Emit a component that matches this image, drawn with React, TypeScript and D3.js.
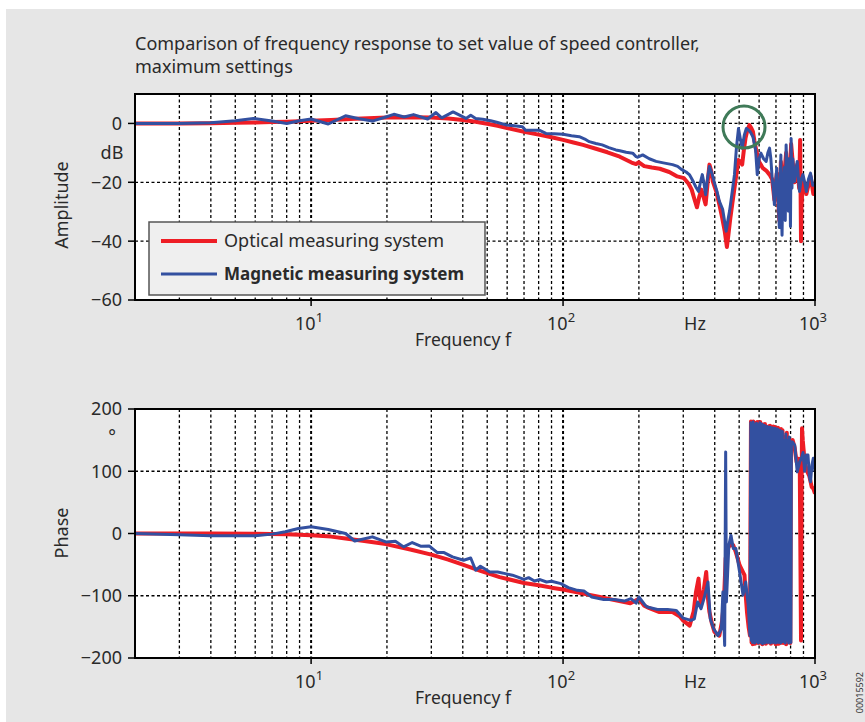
import React from 'react';
import * as d3 from 'd3';

type Pt = [number, number];

// amplitude in dB, [Hz, dB]
const optAmp: Pt[] = [
  [2, 0], [3, 0], [4, 0.1], [5, 0.2], [6, 0.3], [7, 0.5], [8, 0.6], [10, 0.9], [12, 1.2], [15, 1.6],
  [20, 2.0], [25, 2.1], [30, 2.0], [35, 1.7], [40, 1.2], [45, 0.6], [50, -0.1], [55, -0.8], [60, -1.6],
  [70, -2.8], [80, -3.8], [90, -4.7], [100, -5.6], [110, -6.5], [120, -7.3], [135, -8.6], [150, -9.8],
  [168, -11.3], [187, -13.3], [195, -13.8], [200, -13.2], [210, -14.5], [225, -15.0], [242, -15.4],
  [264, -16.5], [284, -18.0], [302, -18.6], [315, -20.5], [324, -22.5], [333, -26], [340, -28.5],
  [347, -25], [354, -22.5], [361, -25], [368, -27.5], [375, -20], [381, -14], [387, -16], [393, -19.7],
  [405, -23], [417, -27.5], [428, -32], [438, -36.5], [447, -42], [453, -38], [460, -33], [470, -27],
  [479, -22], [488, -17], [496, -12.4], [505, -13], [514, -14], [522, -9], [530, -5], [540, -2],
  [549, -0.6], [558, -1.5], [567, -2.8], [575, -6], [584, -9], [600, -13], [621, -15.2], [640, -16],
  [660, -17.4], [676, -19], [690, -26], [705, -17], [722, -33], [732, -13], [744, -24], [768, -10],
  [784, -28], [804, -7], [829, -20], [850, -14], [865, -22], [873, -5.6], [876, -20], [880, -40],
  [884, -28], [896, -19], [924, -24], [960, -18], [985, -24], [1000, -23],
];

const magAmp: Pt[] = [
  [2, 0], [3, 0], [4, 0.2], [5, 0.9], [5.9, 1.7], [7, 0.8], [8, 0], [9, 0.9], [10, 1.5], [11.7, -0.2],
  [13.7, 2.6], [15.5, 1.6], [17.5, 0.8], [19.5, 2], [21.3, 3.1], [23.4, 2.2], [25.5, 3], [29, 1.5],
  [31.3, 3.7], [33, 1.9], [36.6, 3.9], [41.2, 1.7], [43, 2.8], [45, 1.7], [48, 1.4], [51.6, 0.9],
  [55, 0.3], [59.3, -0.5], [64, -0.8], [69, -1.1], [71, -2.3], [80.4, -2.3], [85.5, -3.4], [92, -3.5],
  [100, -3.7], [108, -4.2], [116, -4.5], [122, -5.3], [127, -6.2], [135, -6.8], [143, -7.3],
  [152, -8.2], [162, -9], [168, -9.3], [178, -9.8], [189, -10.1], [195, -11.3], [198, -11.5],
  [207, -10.7], [220, -12], [234, -12.9], [250, -13.4], [272, -14], [285, -14.6], [295, -15.6],
  [308, -16.5], [318, -17.5], [327, -19.4], [336, -21.5], [345, -23.1], [351, -20], [357, -17.4],
  [362, -20], [368, -24.2], [374, -19], [381, -14.6], [390, -17], [399, -20.2], [408, -23],
  [417, -26.4], [430, -29.2], [444, -36.6], [451, -33], [458, -29.8], [468, -24], [479, -17.4],
  [488, -8], [497, -1.7], [505, -5], [514, -8.4], [524, -4], [534, -1.7], [553, -2.8], [567, -4.5],
  [581, -9], [590, -17.4], [600, -12], [610, -10.1], [625, -12], [640, -12.9], [650, -10], [660, -8.4],
  [668, -12], [676, -18.6], [683, -22], [690, -27.6], [698, -20], [705, -15.2], [713, -25],
  [722, -35.4], [727, -22], [732, -10.7], [736, -30], [740, -38], [744, -24.2], [756, -15], [762, -33],
  [768, -7.3], [776, -20], [784, -29.8], [788, -12], [794, -15], [799, -35], [804, -5.1], [810, -22],
  [816, -12], [829, -19.7], [840, -16], [850, -12.9], [858, -18], [868, -23.1], [882, -19],
  [896, -17.4], [910, -20], [924, -23.1], [942, -19], [960, -16.9], [980, -21], [1000, -20.8],
];

// phase in degrees, [Hz, deg]
const optPhase: Pt[] = [
  [2, 0], [4, 0], [6, -0.5], [8, -1.2], [10, -2.7], [12, -5], [13.7, -8], [16, -11.5], [19.8, -17],
  [25, -26], [30, -34], [35, -42], [40, -50], [47, -60], [56, -70], [70, -79.5], [80, -83], [90, -87],
  [100, -90], [115, -95], [140, -102], [160, -107], [185, -112], [200, -105], [210, -116], [220, -120],
  [240, -126], [272, -126], [290, -133], [300, -140], [318, -148], [330, -125], [337, -94],
  [345, -72.5], [349, -100], [353, -115], [362, -90], [370, -62], [375, -100], [381, -126],
  [390, -145], [399, -158], [417, -164], [428, -140], [434, -115], [438, -80], [442, -40], [450, -25],
  [458, -19], [474, -19], [485, -30], [502, -51], [515, -60], [525, -67], [531, -100], [537, -126],
  [545, -150], [552, -164],
  [557, 180], [560, -175], [563, 179], [566, -178], [569, 180], [572, -170], [575, 178], [578, -177],
  [582, 175], [586, -172], [590, 179], [594, -176], [598, 172], [602, -165], [606, 179], [610, -176],
  [614, 174], [618, -178], [623, 175], [628, -168], [633, 176], [638, -177], [643, 170], [648, -175],
  [653, 172], [658, -170], [663, 173], [668, -177], [673, 165], [678, -175], [683, 172], [688, -168],
  [693, 171], [698, -178], [703, 166], [708, -172], [713, 170], [718, -177], [723, 162], [728, -176],
  [733, 168], [738, -170], [743, 166], [748, -176], [753, 155], [758, -160], [763, 152], [768, -178],
  [773, 162], [778, -174], [783, 150], [788, -168], [793, 150], [798, -176], [803, 145],
  [815, 150], [830, 138], [845, 115], [860, 120], [870, 110], [876, -60], [880, -172], [884, 40],
  [888, 169], [894, 150], [910, 115], [930, 100], [950, 92], [970, 75], [985, 72], [1000, 64],
];

const magPhase: Pt[] = [
  [2, 0], [3, -2], [4, -3.8], [6, -3.8], [7, -1], [7.9, 2.7], [8.9, 8], [10, 10.7], [11.7, 6.4],
  [13.7, 0], [14.9, -12], [17.5, -5.4], [19.8, -13.5], [21.6, -12.4], [23.3, -21.5], [25.2, -14.5],
  [27.2, -20.4], [29.4, -20], [31.7, -30.6], [33.7, -30.6], [36.4, -37.6], [40.3, -43], [43, -39.3],
  [45, -59], [47, -52.6], [51.2, -61.8], [55, -62], [59, -64.5], [63, -67], [70, -73.6], [73, -70.9],
  [77, -76.3], [81, -74], [86, -77.9], [90, -76.8], [98, -80.5], [105, -87], [114, -91.3],
  [121, -92.4], [130, -102], [145, -106], [160, -106], [175, -108.5], [186, -104.6], [195, -112],
  [200, -102], [207, -110], [212, -115.5], [216, -118], [237, -122], [260, -122], [281, -123.5],
  [300, -136], [322, -139.6], [332, -137], [342, -110], [353, -120.8], [364, -102], [376, -78],
  [384, -137], [396, -153], [412, -164], [425, -153], [431, -94], [438, -180], [442, 131],
  [445, -110], [455, -19], [464, -3], [474, -24], [485, -24], [502, -62], [518, -99], [531, -78],
  [543, -115], [552, -164],
  [556, 178], [559, -172], [562, 176], [565, -175], [568, 179], [571, -168], [574, 175], [577, -176],
  [580, 172], [583, -170], [586, 177], [589, -174], [592, 168], [595, -176], [598, 175], [601, -160],
  [604, 178], [607, -175], [610, 170], [613, -172], [616, 176], [619, -177], [622, 172], [626, -165],
  [630, 174], [634, -176], [638, 165], [642, -170], [646, 172], [650, -175], [654, 168], [658, -168],
  [662, 171], [666, -176], [670, 160], [674, -172], [678, 170], [682, -175], [686, 165], [690, -160],
  [694, 169], [698, -176], [702, 162], [706, -170], [710, 168], [714, -175], [718, 158], [722, -172],
  [726, 166], [730, -176], [734, 155], [738, -168], [742, 164], [746, -174], [750, 150], [754, -150],
  [758, 148], [762, -176], [766, 160], [770, -172], [774, 150], [778, -165], [782, 145], [786, -176],
  [790, 155], [794, -160], [798, 148], [802, -175], [806, 142],
  [813, 147], [831, 142], [850, 99], [869, 115], [887, 123], [896, 130], [910, 100], [924, 126],
  [938, 126], [950, 92], [960, 83], [972, 110], [985, 121], [1000, 99],
];

const ampTicks = [0, -20, -40, -60];
const phaseTicks = [200, 100, 0, -100, -200];
const decades = [10, 100, 1000];
const gridFreqs = [3, 4, 5, 6, 7, 8, 9, 10, 20, 30, 40, 50, 60, 70, 80, 90, 100, 200, 300, 400, 500, 600, 700, 800, 900];

const RED = '#ee1d25';
const BLUE = '#3350a0';
const FONT = '"Noto Sans", sans-serif';
const TXT = '#2a2a2a';

const x = d3.scaleLog().domain([2, 1000]).range([135, 815]);

interface PanelProps {
  id: string;
  top: number;
  bottom: number;
  domain: [number, number];
  ticks: number[];
  unit: string;
  unitY: number;
  label: string;
  labelY: number;
  red: Pt[];
  blue: Pt[];
  children?: React.ReactNode;
}

const Panel: React.FC<PanelProps> = ({ id, top, bottom, domain, ticks, unit, unitY, label, labelY, red, blue, children }) => {
  const y = d3.scaleLinear().domain(domain).range([bottom, top]);
  const line = d3.line<Pt>().x(d => x(d[0])).y(d => y(d[1]));
  const [x0, x1] = x.range();
  return (
    <g>
      <defs>
        <clipPath id={id}>
          <rect x={x0} y={top} width={x1 - x0} height={bottom - top} />
        </clipPath>
      </defs>
      <rect x={x0} y={top} width={x1 - x0} height={bottom - top} fill="#fff" />
      {gridFreqs.map(f => (
        <line key={f} x1={x(f)} x2={x(f)} y1={top} y2={bottom} stroke="#000"
          strokeWidth={f === 10 || f === 100 ? 2 : 1.3} strokeDasharray="3,2.5" />
      ))}
      {ticks.filter(t => t > domain[0] && t < domain[1]).map(t => (
        <line key={t} x1={x0} x2={x1} y1={y(t)} y2={y(t)} stroke="#000" strokeWidth={1.3} strokeDasharray="3,2.5" />
      ))}
      <g clipPath={`url(#${id})`}>
        <path d={line(red) ?? ''} fill="none" stroke={RED} strokeWidth={4} strokeLinejoin="round" />
        <path d={line(blue) ?? ''} fill="none" stroke={BLUE} strokeWidth={3} strokeLinejoin="round" />
      </g>
      {children}
      <rect x={x0} y={top} width={x1 - x0} height={bottom - top} fill="none" stroke="#000" strokeWidth={2} />
      {ticks.map(t => (
        <g key={t}>
          <line x1={x0 - 7} x2={x0} y1={y(t)} y2={y(t)} stroke="#000" strokeWidth={1.5} />
          <text x={122} y={y(t)} dy="0.36em" textAnchor="end" fontSize={18} fill={TXT}>
            {t < 0 ? `\u2212${-t}` : t}
          </text>
        </g>
      ))}
      <text x={112} y={unitY} dy="0.35em" textAnchor="middle" fontSize={18} fill={TXT}>{unit}</text>
      {decades.map((d, i) => (
        <g key={d}>
          <line x1={x(d)} x2={x(d)} y1={bottom} y2={bottom + 6} stroke="#000" strokeWidth={1.5} />
          <text x={x(d) - 2} y={bottom + 30} textAnchor="middle" fontSize={18} fill={TXT}>
            10<tspan dy={-8} fontSize={13}>{i + 1}</tspan>
          </text>
        </g>
      ))}
      <text x={695} y={bottom + 30} textAnchor="middle" fontSize={18} fill={TXT}>Hz</text>
      <text x={463} y={bottom + 46} textAnchor="middle" fontSize={17.5} fill={TXT}>Frequency f</text>
      <text transform={`translate(62,${labelY}) rotate(-90)`}
        dy="0.35em" textAnchor="middle" fontSize={18} fill={TXT}>{label}</text>
    </g>
  );
};

const App: React.FC = () => {
  return (
    <svg width={865} height={722} style={{ position: 'absolute', left: 0, top: 0 }} fontFamily={FONT}>
      <rect x={0} y={0} width={865} height={722} fill="#fff" />
      <rect x={6} y={9} width={859} height={713} fill="#e6e6e6" />
      <text x={135} y={50} fontSize={18} fill={TXT}>
        Comparison of frequency response to set value of speed controller,
      </text>
      <text x={135} y={73} fontSize={18} fill={TXT}>maximum settings</text>

      <Panel id="clipAmp" top={94} bottom={300} domain={[-60, 10]} ticks={ampTicks} unit="dB" unitY={153}
        label="Amplitude" labelY={205} red={optAmp} blue={magAmp}>
        <g>
          <rect x={149} y={222} width={336} height={73} fill="#efefef" stroke="#555" strokeWidth={1.5} />
          <line x1={161} x2={217} y1={241} y2={241} stroke={RED} strokeWidth={4} />
          <text x={224} y={247} fontSize={18} fill={TXT}>Optical measuring system</text>
          <line x1={161} x2={217} y1={274} y2={274} stroke={BLUE} strokeWidth={3} />
          <text x={224} y={280} fontSize={17} fontWeight="bold" fill={TXT}>Magnetic measuring system</text>
        </g>
        <circle cx={744} cy={127} r={21} fill="none" stroke="#3f7a58" strokeWidth={3} />
      </Panel>

      <Panel id="clipPhase" top={409} bottom={658} domain={[-200, 200]} ticks={phaseTicks} unit={'\u00b0'} unitY={437}
        label="Phase" labelY={533} red={optPhase} blue={magPhase} />

      <text transform="translate(863,672) rotate(-90)" textAnchor="end" fontSize={9} fill="#333">00015592</text>
    </svg>
  );
};

export default App;
